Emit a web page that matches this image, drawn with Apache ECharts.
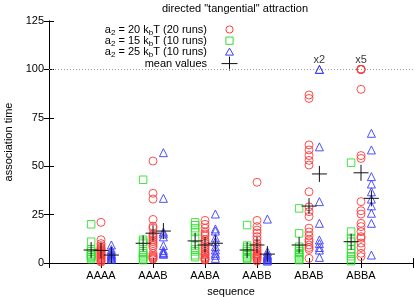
<!DOCTYPE html>
<html>
<head>
<meta charset="utf-8">
<script src="https://cdn.jsdelivr.net/npm/echarts@6/dist/echarts.min.js"></script>
<style>html,body{margin:0;padding:0;background:#fff;}#c{width:415px;height:297px;}</style>
</head>
<body>
<div id="c"></div>
<script>
// ---------- data ----------
var categories = ['AAAA', 'AAAB', 'AABA', 'AABB', 'ABAB', 'ABBA'];
var yTicks = [0, 25, 50, 75, 100, 125];

// a2 = 15 kbT (10 runs) — green squares
var green15 = [
  [20, 11, 7, 6, 5, 4, 4, 3, 3, 2],
  [43, 12, 11, 10, 6, 5, 4, 3, 2, 1.5],
  [21, 19.5, 18, 16, 13, 9, 7, 6, 4, 3],
  [19.6, 9, 8, 7, 6, 5, 4, 3, 2.5, 2],
  [28.2, 15.3, 8.4, 7, 6, 5, 4, 3, 2, 1.5],
  [51.8, 16.2, 12.9, 11, 9, 7, 5, 3.5, 2, 1]
];
// a2 = 20 kbT (20 runs) — red circles
var red20 = [
  [21, 12, 10, 9, 8, 7.5, 7, 6.5, 6, 5.5, 5, 4.5, 4, 3.5, 3, 2.5, 2, 1.5, 1, 0.5],
  [52.7, 36, 33, 22.5, 19, 18, 15, 14, 13, 12, 11, 10, 9, 8, 5, 4, 3.5, 3, 2.5, 2],
  [22, 20, 18, 16, 15, 14, 12, 11, 10, 9, 8, 7, 6, 5, 4.5, 4, 3, 2.5, 2, 1.5],
  [41.7, 22, 18.8, 17, 15.5, 13.6, 12, 10, 9, 8, 7, 6, 5, 4.5, 4, 3.5, 3, 2.5, 2, 1],
  [86.8, 85, 61, 58.4, 55.5, 53, 50.6, 36.8, 29, 26.5, 24, 18, 16, 14, 12, 11, 9.3, 8, 7, 2.4],
  [100, 100, 100, 100, 100, 89.7, 55.5, 54, 31.7, 27, 25.3, 20.5, 18.8, 16.2, 13.6, 12.8, 10.3, 8, 5, 3.3]
];
// a2 = 25 kbT (10 runs) — blue triangles
var blue25 = [
  [9.3, 7, 6, 5, 4.5, 4, 3.5, 3, 2.5, 2],
  [57, 33.4, 16, 15, 13.5, 9, 6.5, 5.5, 5, 4.5],
  [25.3, 17.6, 16.5, 13, 11, 8.4, 6.7, 5, 4, 2.4],
  [22.7, 5.8, 4.5, 4, 3.5, 3, 2.5, 2, 1.5, 1],
  [100, 100, 60, 31.7, 20.5, 11.9, 10, 8, 6.7, 2.9],
  [67, 58.4, 44.6, 40.8, 36.8, 33, 29.5, 25.7, 20.5, 4.1]
];
// mean values
var meanGreen = [6.7, 10.2, 11.4, 6.7, 9.3, 11];
var meanRed = [6.5, 15.4, 9.3, 9.3, 29.4, 46.6];
var meanBlue = [4.1, 16.5, 10.2, 4.6, 46, 33.4];

// off-scale annotations: [category index, value, label, series]
var notes = [[4, 100, 'x2', 'blue'], [5, 100, 'x5', 'red']];

// ---------- build ----------
var FONT = 'Liberation Sans, Arial, sans-serif';
var OFF = {green: -0.19, red: 0, blue: 0.2};

function pts(arr, off) {
  var out = [];
  arr.forEach(function (vals, i) {
    vals.forEach(function (v) { out.push([i + 1 + off, v]); });
  });
  return out;
}
function meanPts(arr, off) {
  return arr.map(function (v, i) { return [i + 1 + off, v]; });
}
function crossRender(params, api) {
  var p = api.coord([api.value(0), api.value(1)]);
  var st = {stroke: '#111', lineWidth: 1};
  return {
    type: 'group',
    children: [
      {type: 'line', shape: {x1: p[0] - 7.5, y1: p[1], x2: p[0] + 7.5, y2: p[1]}, style: st},
      {type: 'line', shape: {x1: p[0], y1: p[1] - 8, x2: p[0], y2: p[1] + 8}, style: st}
    ]
  };
}
function scat(data, symbol, color, size) {
  return {
    type: 'scatter', data: data, symbol: symbol, symbolSize: size,
    itemStyle: {color: 'rgba(0,0,0,0)', borderColor: color, borderWidth: 0.9, opacity: 1},
    emphasis: {disabled: true}, silent: true, z: 2
  };
}

var RED = '#ff3b3b', GREEN = '#30e030', BLUE = '#3b3bff';

var axisCommon = {
  axisLine: {show: true, lineStyle: {color: '#000', width: 1}},
  axisTick: {show: true, inside: true, length: 5, lineStyle: {color: '#000'}},
  splitLine: {show: false}
};

var option = {
  animation: false,
  backgroundColor: '#fff',
  textStyle: {fontFamily: FONT},
  title: {
    text: 'directed "tangential" attraction',
    left: 230, top: -2, textAlign: 'center',
    textStyle: {fontFamily: FONT, fontSize: 11, fontWeight: 'normal', color: '#000'}
  },
  grid: {left: 49, right: 2, top: 21, bottom: 34, containLabel: false, outerBoundsMode: 'none'},
  xAxis: [
    Object.assign({}, axisCommon, {
      type: 'value', min: 0, max: 7, interval: 1, position: 'bottom',
      name: 'sequence', nameLocation: 'middle', nameGap: 23,
      nameTextStyle: {fontFamily: FONT, fontSize: 11, color: '#000'},
      axisLabel: {
        margin: 7, fontFamily: FONT, fontSize: 11, color: '#000',
        formatter: function (v) { return categories[v - 1] || ''; }
      }
    }),
    Object.assign({}, axisCommon, {
      type: 'value', min: 0, max: 7, interval: 1, position: 'top',
      axisLabel: {show: false}
    })
  ],
  yAxis: [
    Object.assign({}, axisCommon, {
      type: 'value', min: yTicks[0], max: yTicks[yTicks.length - 1], interval: 25,
      position: 'left',
      name: 'association time', nameLocation: 'middle', nameGap: 29, nameRotate: 90,
      nameTextStyle: {fontFamily: FONT, fontSize: 11, color: '#000'},
      axisLabel: {margin: 5, fontFamily: FONT, fontSize: 11, color: '#000'}
    }),
    Object.assign({}, axisCommon, {
      type: 'value', min: yTicks[0], max: yTicks[yTicks.length - 1], interval: 25,
      position: 'right', axisLabel: {show: false}
    })
  ],
  series: [
    Object.assign(scat(pts(green15, OFF.green), 'rect', GREEN, 7.5), {
      markLine: {
        silent: true, symbol: 'none', label: {show: false},
        lineStyle: {color: '#a0a0a0', type: [1, 2], width: 1},
        data: [{yAxis: 100}]
      }
    }),
    scat(pts(red20, OFF.red), 'circle', RED, 8),
    scat(pts(blue25, OFF.blue), 'triangle', BLUE, 8),
    {type: 'custom', renderItem: crossRender, data: meanPts(meanGreen, OFF.green), z: 5, silent: true},
    {type: 'custom', renderItem: crossRender, data: meanPts(meanRed, OFF.red), z: 5, silent: true},
    {type: 'custom', renderItem: crossRender, data: meanPts(meanBlue, OFF.blue), z: 5, silent: true},
    {
      type: 'scatter', symbolSize: 1, itemStyle: {color: 'rgba(0,0,0,0)'}, silent: true,
      data: notes.map(function (n) { return [n[0] + 1 + OFF[n[3]], n[1], n[2]]; }),
      label: {
        show: true, position: 'top', distance: 3, color: '#000',
        fontFamily: FONT, fontSize: 11,
        formatter: function (p) { return p.value[2]; }
      }
    }
  ],
  graphic: []
};

// legend (gnuplot-style: right-aligned text, sample to the right)
var legendRows = [
  {n: '20', r: '20', sym: 'circle', color: RED},
  {n: '15', r: '10', sym: 'rect', color: GREEN},
  {n: '25', r: '10', sym: 'tri', color: BLUE}
];
var rich = {
  a: {fontFamily: FONT, fontSize: 11, color: '#000'},
  s: {fontFamily: FONT, fontSize: 8, color: '#000', verticalAlign: 'bottom', padding: [6, 0, 0, 0]}
};
var LX = 207, SX = 229.5, Y0 = 29.5, DY = 11.2;
legendRows.forEach(function (row, k) {
  var y = Y0 + k * DY;
  option.graphic.push({
    type: 'text', x: LX, y: y,
    style: {
      text: '{a|a}{s|2}{a| = ' + row.n + ' k}{s|b}{a|T (' + row.r + ' runs)}',
      rich: rich, textAlign: 'right', textVerticalAlign: 'middle'
    }
  });
  var st = {fill: 'none', stroke: row.color, lineWidth: 1};
  if (row.sym === 'circle') option.graphic.push({type: 'circle', shape: {cx: SX, cy: y, r: 3.6}, style: st});
  if (row.sym === 'rect') option.graphic.push({type: 'rect', shape: {x: SX - 3.6, y: y - 3.6, width: 7.2, height: 7.2}, style: st});
  if (row.sym === 'tri') option.graphic.push({type: 'polygon', shape: {points: [[SX, y - 3.8], [SX + 4, y + 3.2], [SX - 4, y + 3.2]]}, style: st});
});
var my = Y0 + 3 * DY + 0.5;
option.graphic.push({
  type: 'text', x: LX, y: my,
  style: {text: 'mean values', fontFamily: FONT, fontSize: 11, fill: '#000', textAlign: 'right', textVerticalAlign: 'middle'}
});
option.graphic.push({type: 'line', shape: {x1: SX - 8, y1: my, x2: SX + 8, y2: my}, style: {stroke: '#111', lineWidth: 1}});
option.graphic.push({type: 'line', shape: {x1: SX, y1: my - 7, x2: SX, y2: my + 7}, style: {stroke: '#111', lineWidth: 1}});

var chart = echarts.init(document.getElementById('c'), null, {renderer: 'canvas'});
chart.setOption(option);
</script>
</body>
</html>
